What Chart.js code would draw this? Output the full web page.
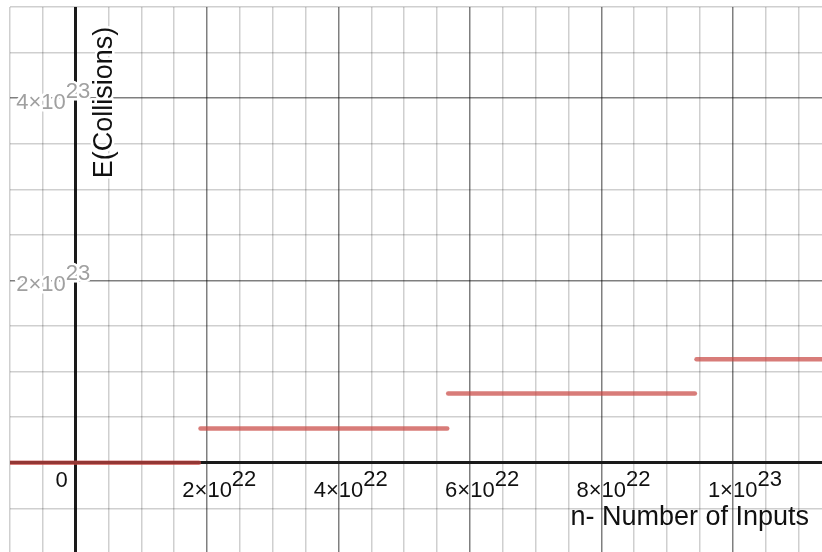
<!DOCTYPE html>
<html>
<head>
<meta charset="utf-8">
<script src="https://cdn.jsdelivr.net/npm/chart.js@4"></script>
<style>
  html, body { margin: 0; padding: 0; background: #fff; }
  #wrap { width: 822px; height: 552px; }
</style>
</head>
<body>
<div id="wrap"><canvas id="collisionChart" width="822" height="552"></canvas></div>
<script>
// Step function: expected collisions against number of inputs
const stepStartN = [-1.2e22, 1.9e22, 5.67e22, 9.45e22];
const stepEndN = [1.875e22, 5.655e22, 9.425e22, 1.2e23];
const stepValue = [0, 3.76e22, 7.6e22, 1.136e23];

// Tick labels (base and superscript exponent)
const xTickValues = [2e22, 4e22, 6e22, 8e22, 1e23];
const xTickBase = ['2×10', '4×10', '6×10', '8×10', '1×10'];
const xTickExp = ['22', '22', '22', '22', '23'];
const yTickValues = [2e23, 4e23];
const yTickBase = ['2×10', '4×10'];
const yTickExp = ['23', '23'];

const xTitle = 'n- Number of Inputs';
const yTitle = 'E(Collisions)';

const FONT = '"Liberation Sans", Arial, sans-serif';

// grid: minor every step, darker every 4th, axis at zero
function gridColor(step) {
    return (ctx) => {
        const k = ctx.tick.value / step;
        const r = Math.round(k);
        if (Math.abs(k - r) > 1e-6) return 'rgba(0,0,0,0)';
        if (r === 0) return '#1a1a1a';
        return r % 4 === 0 ? 'rgba(0,0,0,0.5)' : 'rgba(0,0,0,0.19)';
    };
}

function gridWidth(step) {
    return (ctx) => Math.round(ctx.tick.value / step) === 0 ? 3 : 1.5;
}

// chart.js rounds huge step sizes badly, so lay the grid ticks out ourselves
function gridTicks(step) {
    return (axis) => {
        const ticks = [];
        const first = Math.ceil(axis.min / step);
        const last = Math.floor(axis.max / step);
        for (let k = first; k <= last; k++) ticks.push({ value: k * step });
        axis.ticks = ticks;
    };
}

const axisLabels = {
    id: 'axisLabels',
    afterDraw(chart) {
        const { ctx, scales: { x, y }, chartArea } = chart;
        const x0 = x.getPixelForValue(0);
        const y0 = y.getPixelForValue(0);
        ctx.save();
        ctx.textBaseline = 'alphabetic';

        // x tick labels
        ctx.font = '22px ' + FONT;
        ctx.fillStyle = '#111';
        xTickValues.forEach((v, i) => {
            const px = x.getPixelForValue(v);
            const w = ctx.measureText(xTickBase[i]).width;
            ctx.textAlign = 'center';
            ctx.fillText(xTickBase[i], px, y0 + 34.5);
            ctx.textAlign = 'left';
            ctx.fillText(xTickExp[i], px + w / 2, y0 + 23.5);
        });
        ctx.textAlign = 'center';
        ctx.fillText('0', x0 - 14, y0 + 24.5);

        // y tick labels, gray with white halo
        ctx.strokeStyle = '#fff';
        ctx.lineWidth = 5;
        ctx.lineJoin = 'round';
        yTickValues.forEach((v, i) => {
            const py = y.getPixelForValue(v);
            ctx.textAlign = 'right';
            ctx.strokeText(yTickBase[i], x0 - 10, py + 11);
            ctx.textAlign = 'left';
            ctx.strokeText(yTickExp[i], x0 - 10, py);
        });
        ctx.fillStyle = '#a0a0a0';
        yTickValues.forEach((v, i) => {
            const py = y.getPixelForValue(v);
            ctx.textAlign = 'right';
            ctx.fillText(yTickBase[i], x0 - 10, py + 11);
            ctx.textAlign = 'left';
            ctx.fillText(yTickExp[i], x0 - 10, py);
        });

        // axis titles
        ctx.font = '27px ' + FONT;
        ctx.fillStyle = '#111';
        ctx.textAlign = 'right';
        ctx.fillText(xTitle, chartArea.right - 13, y0 + 62.5);

        ctx.translate(x0 + 36, chartArea.top + 95.5);
        ctx.rotate(-Math.PI / 2);
        ctx.textAlign = 'center';
        ctx.strokeText(yTitle, 0, 0);
        ctx.fillText(yTitle, 0, 0);
        ctx.restore();
    }
};

new Chart(document.getElementById('collisionChart'), {
    type: 'scatter',
    data: {
        datasets: stepValue.map((v, i) => ({
            data: [{ x: stepStartN[i], y: v }, { x: stepEndN[i], y: v }],
            showLine: true,
            borderColor: 'rgba(199,68,64,0.7)',
            borderWidth: 4.5,
            borderCapStyle: 'round',
            pointRadius: 0,
            pointHoverRadius: 0,
            clip: 0
        }))
    },
    options: {
        responsive: false,
        animation: false,
        events: [],
        layout: { padding: { left: 10, top: 7, right: 0, bottom: 0 } },
        plugins: {
            legend: { display: false },
            tooltip: { enabled: false }
        },
        scales: {
            x: {
                type: 'linear',
                min: -1e22,
                max: 1.136e23,
                afterBuildTicks: gridTicks(5e21),
                border: { display: false },
                grid: { color: gridColor(5e21), lineWidth: gridWidth(5e21), drawTicks: false },
                ticks: { display: false }
            },
            y: {
                type: 'linear',
                min: -0.98e23,
                max: 5e23,
                afterBuildTicks: gridTicks(5e22),
                border: { display: false },
                grid: { color: gridColor(5e22), lineWidth: gridWidth(5e22), drawTicks: false },
                ticks: { display: false }
            }
        }
    },
    plugins: [axisLabels]
});
</script>
</body>
</html>
